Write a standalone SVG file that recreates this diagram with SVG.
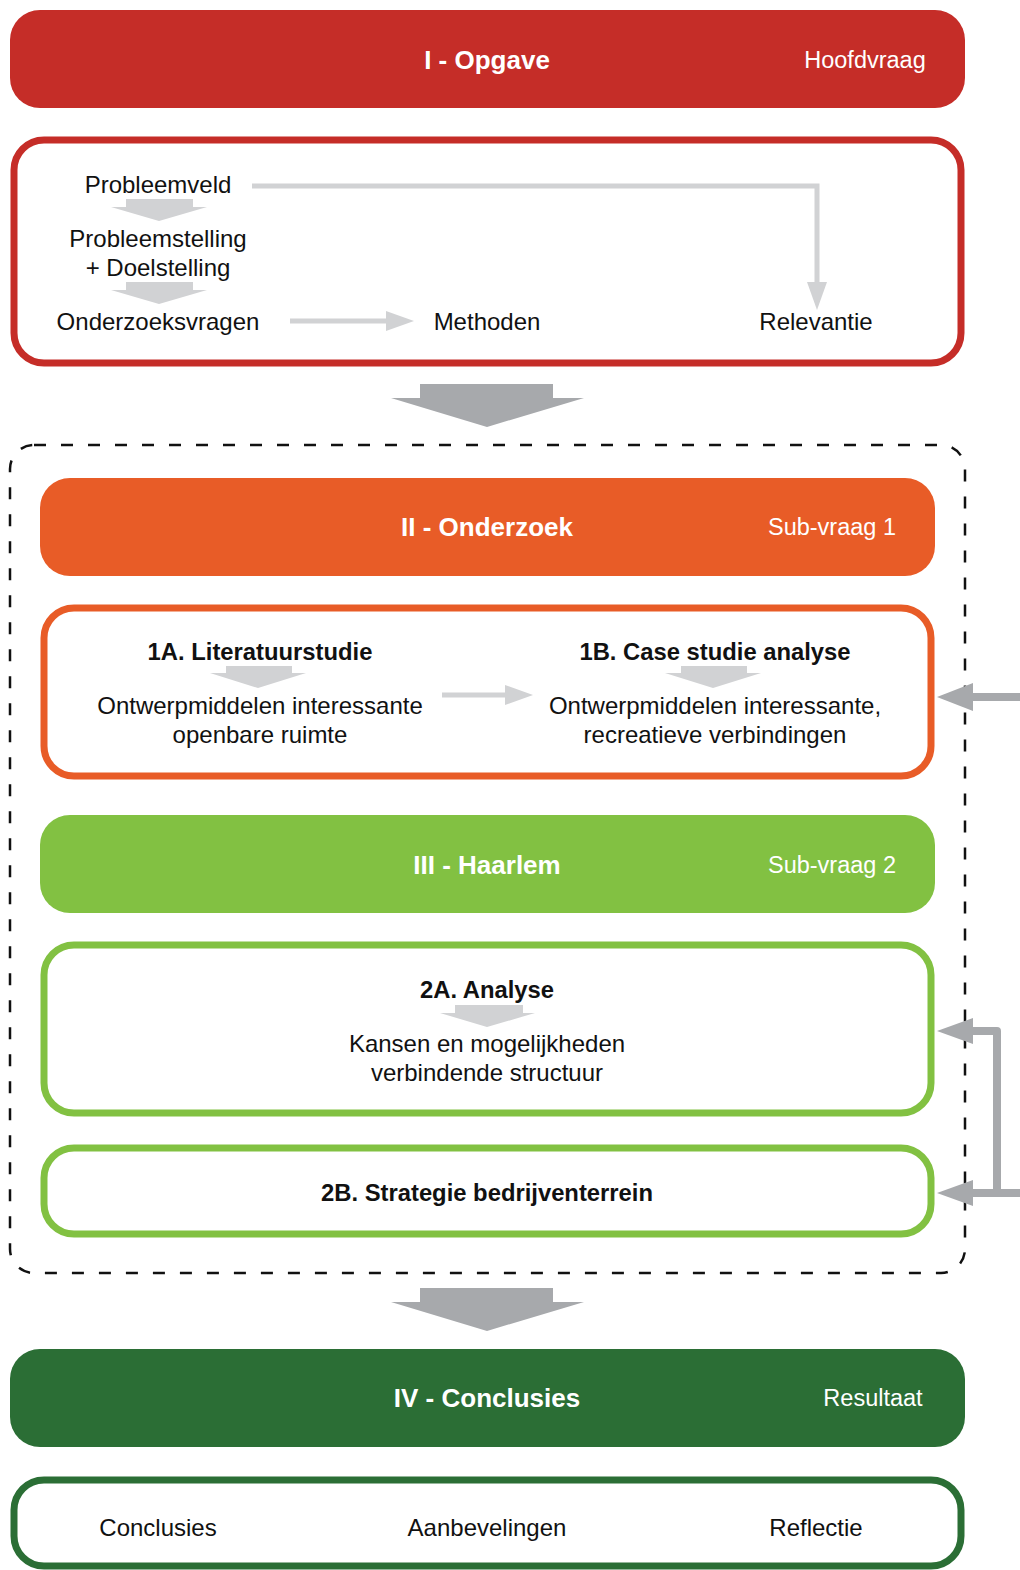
<svg xmlns="http://www.w3.org/2000/svg" width="1020" height="1570" viewBox="0 0 1020 1570">
  <style>
    text { font-family: "Liberation Sans", Arial, sans-serif; text-anchor: middle; }
    .title { font-size: 26px; font-weight: bold; fill: #ffffff; }
    .sub { font-size: 23.5px; fill: #ffffff; }
    .body { font-size: 24px; fill: #111111; }
    .bold { font-size: 23.8px; font-weight: bold; fill: #111111; }
    .frame { fill: #ffffff; stroke-width: 7; }
    .light { fill: #D1D2D4; }
    .lightline { fill: none; stroke: #D1D2D4; stroke-width: 5; }
    .dark { fill: #A7A9AC; }
    .darkline { fill: none; stroke: #A7A9AC; stroke-width: 8; stroke-linejoin: round; }
  </style>

  <!-- dashed container for phases II and III -->
  <rect id="research-frame" x="10" y="445" width="955" height="828" rx="24" fill="none" stroke="#111111" stroke-width="2.5" stroke-dasharray="12 15"/>

  <!-- Phase I -->
  <g id="header-opgave">
    <rect x="10" y="10" width="955" height="98" rx="30" fill="#C52D28"/>
    <text class="title" x="487" y="69">I - Opgave</text>
    <text class="sub" x="865" y="68">Hoofdvraag</text>
  </g>
  <g id="box-opgave">
    <rect class="frame" x="14" y="140" width="947" height="223" rx="30" stroke="#C52D28"/>
    <text class="body" x="158" y="193">Probleemveld</text>
    <text class="body" x="158" y="247">Probleemstelling</text>
    <text class="body" x="158" y="276">+ Doelstelling</text>
    <text class="body" x="158" y="330">Onderzoeksvragen</text>
    <text class="body" x="487" y="330">Methoden</text>
    <text class="body" x="816" y="330">Relevantie</text>
  </g>

  <!-- Phase II -->
  <g id="header-onderzoek">
    <rect x="40" y="478" width="895" height="98" rx="30" fill="#E85C27"/>
    <text class="title" x="487" y="536">II - Onderzoek</text>
    <text class="sub" x="832" y="535">Sub-vraag 1</text>
  </g>
  <g id="box-onderzoek">
    <rect class="frame" x="44" y="608" width="887" height="168" rx="30" stroke="#E85C27"/>
    <text class="bold" x="260" y="660">1A. Literatuurstudie</text>
    <text class="body" x="260" y="714">Ontwerpmiddelen interessante</text>
    <text class="body" x="260" y="743">openbare ruimte</text>
    <text class="bold" x="715" y="660">1B. Case studie analyse</text>
    <text class="body" x="715" y="714">Ontwerpmiddelen interessante,</text>
    <text class="body" x="715" y="743">recreatieve verbindingen</text>
  </g>

  <!-- Phase III -->
  <g id="header-haarlem">
    <rect x="40" y="815" width="895" height="98" rx="30" fill="#82C142"/>
    <text class="title" x="487" y="874">III - Haarlem</text>
    <text class="sub" x="832" y="873">Sub-vraag 2</text>
  </g>
  <g id="box-analyse">
    <rect class="frame" x="44" y="945" width="887" height="168" rx="30" stroke="#82C142"/>
    <text class="bold" x="487" y="998">2A. Analyse</text>
    <text class="body" x="487" y="1052">Kansen en mogelijkheden</text>
    <text class="body" x="487" y="1081">verbindende structuur</text>
  </g>
  <g id="box-strategie">
    <rect class="frame" x="44" y="1148" width="887" height="86" rx="30" stroke="#82C142"/>
    <text class="bold" x="487" y="1201">2B. Strategie bedrijventerrein</text>
  </g>

  <!-- Phase IV -->
  <g id="header-conclusies">
    <rect x="10" y="1349" width="955" height="98" rx="30" fill="#2B6E35"/>
    <text class="title" x="487" y="1407">IV - Conclusies</text>
    <text class="sub" x="873" y="1406">Resultaat</text>
  </g>
  <g id="box-conclusies">
    <rect class="frame" x="14" y="1480" width="947" height="86" rx="30" stroke="#2B6E35"/>
    <text class="body" x="158" y="1536">Conclusies</text>
    <text class="body" x="487" y="1536">Aanbevelingen</text>
    <text class="body" x="816" y="1536">Reflectie</text>
  </g>

  <!-- connectors -->
  <g id="connectors">
    <!-- flow inside phase I -->
    <polygon class="light" points="126,199 193,199 193,207 207,207 159,221 111,207 126,207"/>
    <polygon class="light" points="126,282 193,282 193,290 207,290 159,304 111,290 126,290"/>
    <polyline class="lightline" points="252,186 817,186 817,284"/>
    <polygon class="light" points="807,282 827,282 817,310"/>
    <line class="lightline" x1="290" y1="321" x2="388" y2="321"/>
    <polygon class="light" points="386,311 414,321 386,331"/>

    <!-- flow inside phase II -->
    <polygon class="light" points="226,666 292,666 292,673 306,673 258,688 210,673 226,673"/>
    <polygon class="light" points="681,666 747,666 747,673 761,673 713,688 665,673 681,673"/>
    <line class="lightline" x1="442" y1="695" x2="507" y2="695"/>
    <polygon class="light" points="505,685 533,695 505,705"/>

    <!-- flow inside phase III -->
    <polygon class="light" points="455,1005 523,1005 523,1013 535,1013 487,1027 440,1013 455,1013"/>

    <!-- phase transitions -->
    <polygon class="dark" points="420,384 553,384 553,398 584,398 487,427 391,398 420,398"/>
    <polygon class="dark" points="420,1288 553,1288 553,1302 584,1302 487,1331 391,1302 420,1302"/>

    <!-- feedback arrows from the right -->
    <line class="darkline" x1="971" y1="697" x2="1020" y2="697"/>
    <polygon class="dark" points="973,683 973,711 937,697"/>
    <polyline class="darkline" points="971,1031 997,1031 997,1193"/>
    <polygon class="dark" points="973,1018 973,1044 937,1031"/>
    <line class="darkline" x1="971" y1="1193" x2="1020" y2="1193"/>
    <polygon class="dark" points="973,1180 973,1206 937,1193"/>
  </g>
</svg>
